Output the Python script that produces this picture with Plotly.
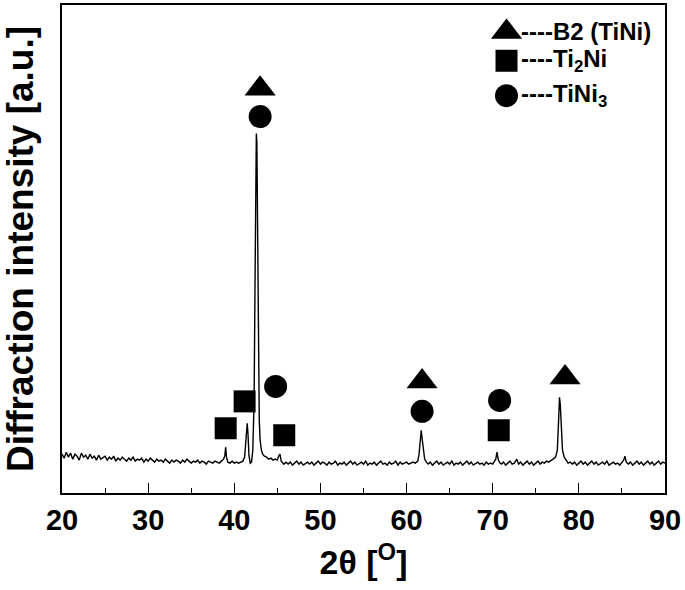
import plotly.graph_objects as go

# --- XRD pattern (2theta in degrees, intensity in arbitrary units) ---
two_theta = [
    20.00, 20.25, 20.50, 20.75, 21.00, 21.25, 21.50, 21.75, 22.00, 22.25,
    22.50, 22.75, 23.00, 23.25, 23.50, 23.75, 24.00, 24.25, 24.50, 24.75,
    25.00, 25.25, 25.50, 25.75, 26.00, 26.25, 26.50, 26.75, 27.00, 27.25,
    27.50, 27.75, 28.00, 28.25, 28.50, 28.75, 29.00, 29.25, 29.50, 29.75,
    30.00, 30.25, 30.50, 30.75, 31.00, 31.25, 31.50, 31.75, 32.00, 32.25,
    32.50, 32.75, 33.00, 33.25, 33.50, 33.75, 34.00, 34.25, 34.50, 34.75,
    35.00, 35.25, 35.50, 35.75, 36.00, 36.25, 36.50, 36.75, 37.00, 37.25,
    37.50, 37.75, 38.00, 38.25, 38.50, 38.75, 38.90, 39.00, 39.10, 39.25,
    39.50, 39.75, 40.00, 40.25, 40.50, 40.75, 41.00, 41.20, 41.35, 41.50,
    41.60, 41.70, 41.85, 42.00, 42.15, 42.30, 42.40, 42.50, 42.56, 42.62,
    42.70, 42.80, 42.90, 43.00, 43.15, 43.30, 43.50, 43.75, 44.00, 44.25,
    44.50, 44.75, 45.00, 45.15, 45.30, 45.45, 45.60, 45.75, 46.00, 46.25,
    46.50, 46.75, 47.00, 47.25, 47.50, 47.75, 48.00, 48.25, 48.50, 48.75,
    49.00, 49.25, 49.50, 49.75, 50.00, 50.25, 50.50, 50.75, 51.00, 51.25,
    51.50, 51.75, 52.00, 52.25, 52.50, 52.75, 53.00, 53.25, 53.50, 53.75,
    54.00, 54.25, 54.50, 54.75, 55.00, 55.25, 55.50, 55.75, 56.00, 56.25,
    56.50, 56.75, 57.00, 57.25, 57.50, 57.75, 58.00, 58.25, 58.50, 58.75,
    59.00, 59.25, 59.50, 59.75, 60.00, 60.25, 60.50, 60.75, 61.00, 61.30,
    61.45, 61.60, 61.70, 61.80, 61.95, 62.10, 62.30, 62.50, 62.75, 63.00,
    63.25, 63.50, 63.75, 64.00, 64.25, 64.50, 64.75, 65.00, 65.25, 65.50,
    65.75, 66.00, 66.25, 66.50, 66.75, 67.00, 67.25, 67.50, 67.75, 68.00,
    68.25, 68.50, 68.75, 69.00, 69.25, 69.50, 69.75, 70.00, 70.20, 70.35,
    70.50, 70.65, 70.85, 71.00, 71.25, 71.50, 71.75, 72.00, 72.25, 72.50,
    72.80, 73.00, 73.25, 73.50, 73.75, 74.00, 74.25, 74.50, 74.75, 75.00,
    75.25, 75.50, 75.75, 76.00, 76.25, 76.50, 76.75, 77.00, 77.30, 77.50,
    77.65, 77.75, 77.85, 77.95, 78.10, 78.30, 78.50, 78.75, 79.00, 79.25,
    79.50, 79.75, 80.00, 80.25, 80.50, 80.75, 81.00, 81.25, 81.50, 81.75,
    82.00, 82.25, 82.50, 82.75, 83.00, 83.25, 83.50, 83.75, 84.00, 84.25,
    84.50, 84.75, 85.00, 85.20, 85.35, 85.50, 85.75, 86.00, 86.25, 86.50,
    86.75, 87.00, 87.25, 87.50, 87.75, 88.00, 88.25, 88.50, 88.75, 89.00,
    89.25, 89.50, 89.75, 90.00,
]
intensity = [
    36, 32, 38, 33, 37, 31, 36, 34, 30, 37,
    33, 35, 31, 36, 32, 34, 30, 35, 31, 33,
    34, 30, 33, 31, 34, 29, 32, 30, 33, 31,
    29, 32, 30, 33, 29, 31, 30, 32, 28, 31,
    29, 32, 30, 28, 31, 29, 30, 28, 31, 29,
    27, 30, 28, 30, 29, 27, 30, 28, 31, 29,
    27, 29, 28, 30, 27, 29, 28, 26, 29, 28,
    27, 29, 28, 27, 29, 31, 34, 43, 33, 28,
    27, 29, 27, 28, 27, 28, 29, 33, 48, 67,
    55, 35, 27, 28, 40, 90, 200, 330, 358, 350,
    250, 130, 70, 50, 40, 36, 34, 33, 31, 32,
    30, 31, 30, 34, 36, 29, 27, 26, 28, 26,
    28, 25, 27, 29, 26, 28, 25, 27, 28, 26,
    28, 25, 27, 29, 26, 28, 27, 25, 28, 26,
    27, 29, 25, 27, 26, 28, 25, 27, 29, 26,
    28, 25, 27, 28, 26, 29, 25, 27, 26, 28,
    25, 27, 29, 26, 27, 25, 28, 26, 27, 29,
    25, 28, 26, 27, 28, 26, 27, 28, 27, 29,
    36, 55, 60, 52, 38, 31, 28, 26, 28, 25,
    27, 29, 26, 28, 25, 27, 28, 26, 29, 25,
    27, 26, 28, 25, 27, 29, 26, 28, 25, 27,
    28, 26, 27, 25, 28, 26, 27, 26, 29, 31,
    38, 30, 27, 26, 28, 25, 27, 29, 26, 27,
    31, 26, 28, 25, 27, 29, 26, 28, 25, 27,
    29, 26, 28, 27, 29, 28, 30, 31, 33, 40,
    70, 93, 85, 60, 40, 33, 30, 27, 28, 26,
    28, 25, 27, 29, 26, 28, 25, 27, 29, 26,
    28, 25, 27, 28, 26, 29, 25, 27, 28, 26,
    27, 25, 28, 30, 34, 28, 26, 28, 25, 27,
    29, 26, 28, 25, 27, 29, 26, 28, 25, 27,
    29, 26, 28, 27,
]

# --- phase markers (position of each symbol above its peak) ---
b2_x = [43.0, 61.8, 78.4]
b2_y = [403, 109, 113]
ti2ni_x = [39.0, 41.2, 45.8, 70.7]
ti2ni_y = [62, 89, 55, 60]
tini3_x = [43.0, 44.8, 61.8, 70.8]
tini3_y = [375, 104, 79, 90]

legend_labels = ["----B2 (TiNi)", "----Ti<sub>2</sub>Ni", "----TiNi<sub>3</sub>"]
legend_symbols = ["triangle-up", "square", "circle"]

x_ticks = [20, 30, 40, 50, 60, 70, 80, 90]

FONT = "Liberation Sans, Arial, sans-serif"
SIZES = {"triangle-up": 27, "square": 22, "circle": 23}

fig = go.Figure()
fig.add_trace(go.Scatter(x=two_theta, y=intensity, mode="lines",
                         line=dict(color="black", width=1.4), showlegend=False,
                         hoverinfo="skip"))
fig.add_trace(go.Scatter(x=b2_x, y=b2_y, mode="markers", showlegend=False,
                         marker=dict(symbol="triangle-up", size=SIZES["triangle-up"], color="black")))
fig.add_trace(go.Scatter(x=ti2ni_x, y=ti2ni_y, mode="markers", showlegend=False,
                         marker=dict(symbol="square", size=SIZES["square"], color="black")))
fig.add_trace(go.Scatter(x=tini3_x, y=tini3_y, mode="markers", showlegend=False,
                         marker=dict(symbol="circle", size=SIZES["circle"], color="black")))

# custom legend (symbols in data space, text as annotations)
leg_x = 71.6
leg_y = [460, 431, 396]
for sym, ly in zip(legend_symbols, leg_y):
    fig.add_trace(go.Scatter(x=[leg_x], y=[ly], mode="markers", showlegend=False,
                             marker=dict(symbol=sym, size=SIZES[sym], color="black")))
for lab, ly in zip(legend_labels, leg_y):
    fig.add_annotation(x=73.0, y=ly, xref="x", yref="y", text=lab, showarrow=False,
                       xanchor="left", yanchor="middle",
                       font=dict(family=FONT, size=24, color="black", weight="bold"))

fig.update_layout(
    width=685, height=590,
    margin=dict(l=62, r=20, t=3, b=97),
    paper_bgcolor="white", plot_bgcolor="white",
    font=dict(family=FONT, color="black"),
    xaxis=dict(
        range=[20, 90], tickvals=x_ticks, ticktext=[str(t) for t in x_ticks],
        ticks="inside", ticklen=10, tickwidth=1.3, tickcolor="black",
        minor=dict(ticks="inside", ticklen=5, tickwidth=1.3, tickcolor="black", dtick=5),
        showline=True, linecolor="black", linewidth=1.5, mirror=True,
        showgrid=False, zeroline=False,
        tickfont=dict(family=FONT, size=29, color="black", weight="bold"),
        title=dict(text="2θ [<sup>O</sup>]", standoff=16,
                   font=dict(family=FONT, size=34, color="black", weight="bold")),
    ),
    yaxis=dict(
        range=[-3, 487], showticklabels=False, ticks="",
        showline=True, linecolor="black", linewidth=1.5, mirror=True,
        showgrid=False, zeroline=False,
        title=dict(text="Diffraction intensity [a.u.]", standoff=20,
                   font=dict(family=FONT, size=37, color="black", weight="bold")),
    ),
)

fig.write_html("out.html", config={"displayModeBar": False},
               post_script="document.body.style.margin='0';")
